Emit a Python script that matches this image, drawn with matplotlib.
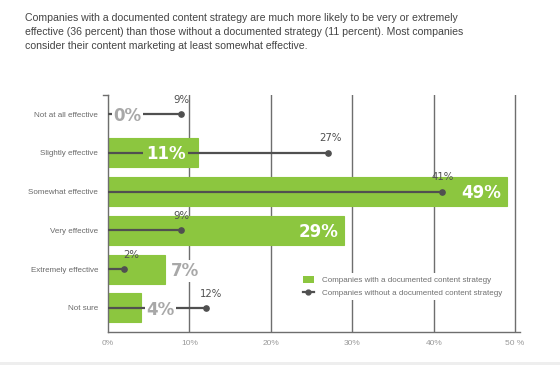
import numpy as np
import matplotlib
matplotlib.use("Agg")
import matplotlib.pyplot as plt
from matplotlib.lines import Line2D
from matplotlib.patches import Patch

plt.rcParams["font.family"] = ["Liberation Sans", "DejaVu Sans"]

categories = ["Not at all effective", "Slightly effective", "Somewhat effective",
              "Very effective", "Extremely effective", "Not sure"]
documented = [0, 11, 49, 29, 7, 4]
undocumented = [9, 27, 41, 9, 2, 12]
xtick_labels = ["0%", "10%", "20%", "30%", "40%", "50 %"]
legend_labels = ["Companies with a documented content strategy",
                 "Companies without a documented content strategy"]
title = ("Companies with a documented content strategy are much more likely to be very or extremely\n"
         "effective (36 percent) than those without a documented strategy (11 percent). Most companies\n"
         "consider their content marketing at least somewhat effective.")

green = "#8cc63f"
dark = "#505050"
light = "#a8a8a8"
grid_c = "#6e6e6e"

fig = plt.figure(figsize=(5.6, 3.65), dpi=100)
ax = fig.add_axes([108 / 560, 1 - 332 / 365, 412 / 560, 237 / 365])

y = np.arange(len(categories))

for xv in [10, 20, 30, 40, 50]:
    ax.axvline(xv, color=grid_c, lw=1.0, zorder=0)

ax.barh(y, documented, height=0.75, color=green, edgecolor=green, lw=0.8, zorder=2)

for yi, v in zip(y, undocumented):
    ax.plot([0, v], [yi, yi], color=dark, lw=1.6, zorder=3, solid_capstyle="butt")
    ax.plot(v, yi, "o", color=dark, ms=3.8, zorder=4)

# line value labels
line_dx = [0, 0.3, 0.1, 0, 0.9, 0.6]
for yi, v, dx in zip(y, undocumented, line_dx):
    ax.text(v + dx, yi - 0.24, f"{v}%", ha="center", va="bottom", fontsize=7.3,
            family="DejaVu Sans", color=dark, zorder=6)

# bar value labels
bold = dict(fontsize=12, fontweight="bold", family="DejaVu Sans", zorder=6)
for yi, v in zip(y, documented):
    if v >= 20:
        ax.text(v - 0.7, yi + 0.03, f"{v}%", ha="right", va="center",
                color="white", **bold)
    elif v >= 10:
        ax.text(v - 3.9, yi + 0.03, f"{v}%", ha="center", va="center",
                color="white", **bold,
                bbox=dict(boxstyle="square,pad=0.15", fc=green, ec="none"))
    else:
        ax.text(v + 0.7, yi + 0.05, f"{v}%", ha="left", va="center",
                color=light, **bold,
                bbox=dict(boxstyle="square,pad=0.1", fc="white", ec="none"))

ax.set_xlim(0, 50.6)
ax.set_ylim(5.62, -0.49)
ax.set_xticks([0, 10, 20, 30, 40, 50])
ax.set_xticklabels(xtick_labels, fontsize=6, color="#9a9a9a")
ax.set_yticks(y)
ax.set_yticklabels(categories, fontsize=5.8, color="#6a6a6a")
ax.tick_params(length=0, pad=6)
ax.tick_params(axis="y", pad=7)

for s in ["top", "right"]:
    ax.spines[s].set_visible(False)
for s in ["left", "bottom"]:
    ax.spines[s].set_color(grid_c)
    ax.spines[s].set_linewidth(1.0)
ax.plot([-0.012, 0], [1, 1], transform=ax.transAxes, color=grid_c, lw=1.0, clip_on=False)

handles = [Patch(facecolor=green, edgecolor="none"),
           Line2D([0], [0], color=dark, lw=1.6, marker="o", ms=3.5, markevery=[1])]
handles[1].set_data([0, 1], [0, 0])
leg = ax.legend(handles, legend_labels, loc="upper left",
                bbox_to_anchor=(300 / 560, 1 - 273 / 365), bbox_transform=fig.transFigure,
                frameon=True, fontsize=5.8, handlelength=1.3, handleheight=0.9,
                handletextpad=1.0, labelspacing=0.55, borderpad=0.4, borderaxespad=0)
leg.get_frame().set_facecolor("white")
leg.get_frame().set_edgecolor("none")
leg.get_frame().set_alpha(1)
for t in leg.get_texts():
    t.set_color("#707070")

fig.text(25 / 560, 1 - 13 / 365, title, ha="left", va="top", fontsize=7.55,
         color="#444444", linespacing=1.52)

fig.patches.append(plt.Rectangle((0, 0), 1, 3 / 365, transform=fig.transFigure,
                                 fc="#eeeeee", ec="none"))

fig.savefig("out.png", dpi=100)
